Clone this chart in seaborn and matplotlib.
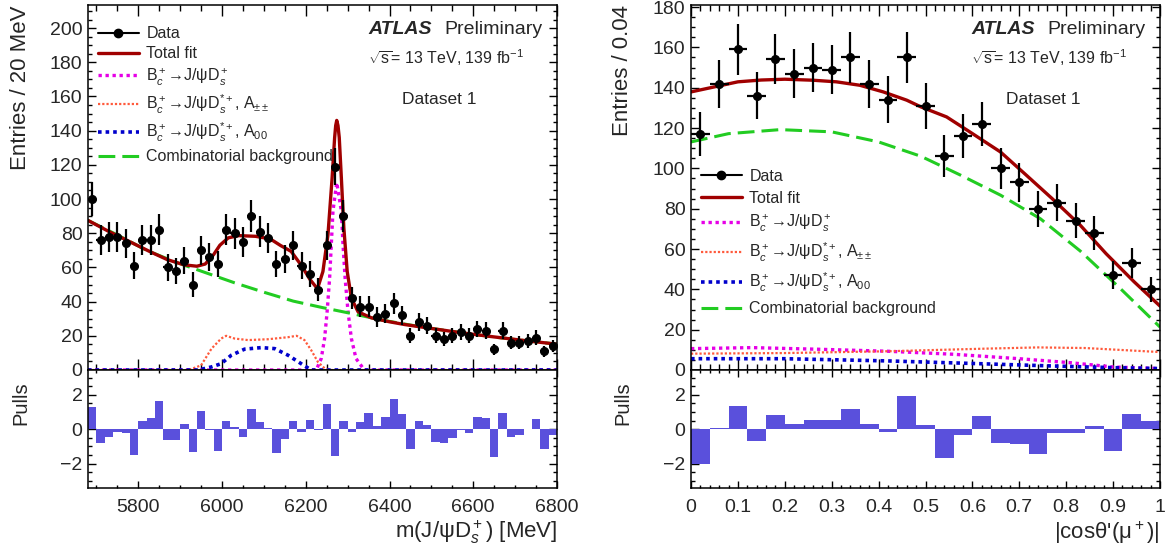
import numpy as np
import matplotlib
matplotlib.use("Agg")
import matplotlib.pyplot as plt
import seaborn as sns
from matplotlib.lines import Line2D
from matplotlib.ticker import MultipleLocator

# ---- left panel: m(J/psi Ds) ----
mass_edges = np.arange(5680, 6801, 20)
mass_centers = (mass_edges[:-1] + mass_edges[1:]) / 2
counts_mass = [100, 76, 78, 78, 74, 61, 76, 76, 82, 60,
               58, 64, 50, 70, 66, 62, 82, 80, 75, 90,
               81, 77, 62, 65, 73, 61, 56, 47, 73, 119,
               90, 42, 37, 37, 31, 33, 39, 32, 20, 28,
               26, 20, 18, 20, 22, 20, 24, 23, 12, 23,
               16, 16, 17, 19, 11, 14]
pulls_mass = [1.28, -0.78, -0.43, -0.17, -0.23, -1.48, 0.49, 0.66, 1.67, -0.62,
              -0.62, 0.31, -1.32, 1.09, -0.05, -1.26, 0.5, 0.14, -0.43, 1.18,
              0.45, 0.08, -1.36, -0.58, 0.5, -0.16, 0.56, -0.02, 1.46, -1.53,
              0.5, -0.16, 0.45, 0.93, 0.19, 0.72, 1.75, 0.89, -1.17, 0.5,
              0.25, -0.74, -0.78, -0.49, -0.02, -0.21, 0.72, 0.64, -1.63, 0.93,
              -0.43, -0.33, 0.0, 0.6, -1.17, -0.31]

fit_mass_x = [5680, 5730, 5780, 5830, 5870, 5910, 5940, 5960, 5980, 5995,
              6015, 6040, 6080, 6115, 6140, 6165, 6190, 6210, 6228, 6241,
              6253, 6263, 6269, 6271.5, 6274, 6277, 6280, 6285, 6291, 6299,
              6309, 6325, 6357, 6400, 6436, 6489, 6568, 6648, 6727, 6800]
fit_mass_y = [87.5, 81, 75, 69, 64.5, 61.5, 60.7, 62, 67.5, 73,
              77.3, 78.6, 78.2, 76.7, 72.8, 69.4, 61, 53, 47.5, 57.6,
              79, 112.5, 136, 143, 146, 143, 136, 112.5, 83, 57.6,
              42, 34, 30.5, 28.2, 26.6, 24.7, 21.9, 19.4, 17.1, 15.1]
bkg_mass_x = [5680, 5750, 5820, 5890, 5960, 6030, 6100, 6170, 6240,
              6310, 6380, 6450, 6520, 6590, 6660, 6730, 6800]
bkg_mass_y = [87.5, 79, 70, 63, 57, 51, 45.5, 40.3, 36.5,
              33, 29.3, 26.3, 23.6, 21.2, 19, 17, 15.1]
ds_mass_x = [5680, 6225, 6237, 6245, 6251, 6257, 6261, 6265, 6274,
             6285, 6289, 6294, 6301, 6309, 6320, 6340, 6800]
ds_mass_y = [0, 0, 6.7, 18.4, 34, 53.7, 73.3, 93, 109.6,
             93, 73.3, 53.7, 34, 18.4, 6.7, 0, 0]
app_mass_x = [5680, 5920, 5950, 5975, 5998, 6010, 6030, 6062, 6110,
              6158, 6178, 6197, 6213, 6229, 6245, 6260, 6800]
app_mass_y = [0, 0, 2.7, 12.5, 18.4, 20, 18.4, 17.5, 18,
              19.2, 20, 17.5, 11.6, 4.7, 1, 0, 0]
a00_mass_x = [5680, 5943, 5975, 5998, 6022, 6054, 6094, 6126, 6158, 6189, 6213, 6800]
a00_mass_y = [0, 0, 1.8, 3.7, 8.6, 12.2, 13.1, 12.5, 8.6, 3.7, 0, 0]

# ---- right panel: |cos theta'(mu+)| ----
cos_edges = np.linspace(0, 1, 26)
cos_centers = (cos_edges[:-1] + cos_edges[1:]) / 2
counts_cos = [117, 142, 159, 136, 154, 147, 150, 149, 155, 142,
              134, 155, 131, 106, 116, 122, 100, 93, 80, 83,
              74, 68, 47, 53, 40]
pulls_cos = [-2.02, 0.1, 1.36, -0.68, 0.83, 0.31, 0.54, 0.54, 1.18, 0.31,
             -0.16, 1.94, 0.25, -1.69, -0.31, 0.78, -0.78, -0.85, -1.42, -0.23,
             -0.23, 0.19, -1.24, 0.89, 0.5]

fit_cos_x = [0, 0.05, 0.1, 0.15, 0.2, 0.26, 0.31, 0.36, 0.41, 0.46,
             0.49, 0.545, 0.595, 0.66, 0.715, 0.77, 0.83, 0.885, 0.945, 1.0]
fit_cos_y = [137.9, 140.4, 142.9, 143.8, 144.2, 143.7, 142.9, 141.2, 137.9, 133.8,
             130.5, 125.5, 118, 108.1, 96.6, 85, 71.8, 57.7, 43.7, 31.7]
bkg_cos_x = [0, 0.08, 0.19, 0.3, 0.4, 0.49, 0.575, 0.66, 0.745, 0.83, 0.915, 1.0]
bkg_cos_y = [113.1, 117.2, 119.2, 118.1, 113.1, 106, 96.6, 86.7, 75, 59, 40.5, 21.3]
ds_cos_x = [0, 0.13, 0.27, 0.42, 0.56, 0.7, 0.81, 0.9, 1.0]
ds_cos_y = [10.6, 11.1, 10.3, 9.3, 7.8, 5.6, 3.6, 1.5, 0.7]
app_cos_x = [0, 0.2, 0.42, 0.63, 0.74, 0.84, 1.0]
app_cos_y = [8.1, 8.4, 9.3, 10.6, 11.2, 10.9, 8.9]
a00_cos_x = [0, 0.2, 0.42, 0.62, 0.77, 0.91, 1.0]
a00_cos_y = [5.6, 5.6, 4.5, 3.1, 2.0, 1.1, 0.7]

RED = "#a00000"
GREEN = "#22cc22"
MAGENTA = "#e600e6"
ORANGE = "#ff5a3c"
BLUE = "#0000cc"
PULLC = "#5a50dc"

sns.set_theme(style="ticks")
plt.rcParams["font.family"] = ["Liberation Sans", "DejaVu Sans"]
plt.rcParams["mathtext.fontset"] = "custom"
plt.rcParams["mathtext.rm"] = "Liberation Sans"
plt.rcParams["mathtext.it"] = "Liberation Sans:italic"
plt.rcParams["mathtext.bf"] = "Liberation Sans:bold"
plt.rcParams["axes.linewidth"] = 1.1

W, H = 1172, 555
fig = plt.figure(figsize=(W / 100, H / 100), dpi=100)


def px_axes(x0, y0, x1, y1):
    return fig.add_axes([x0 / W, 1 - y1 / H, (x1 - x0) / W, (y1 - y0) / H])


def root_ticks(ax, xmaj, xmin, ymaj, ymin, xlen, ylen):
    ax.xaxis.set_major_locator(MultipleLocator(xmaj))
    ax.xaxis.set_minor_locator(MultipleLocator(xmin))
    ax.yaxis.set_major_locator(MultipleLocator(ymaj))
    ax.yaxis.set_minor_locator(MultipleLocator(ymin))
    ax.tick_params(which="both", direction="in", top=True, right=True,
                   labelsize=14, color="black", width=1.0, pad=4)
    ax.tick_params(axis="x", which="major", length=xlen)
    ax.tick_params(axis="x", which="minor", length=xlen * 0.5)
    ax.tick_params(axis="y", which="major", length=ylen)
    ax.tick_params(axis="y", which="minor", length=ylen * 0.5)
    for s in ax.spines.values():
        s.set_color("black")


def draw_panel(ax, axp, centers, half, counts, pulls, edges,
               fit, bkg, ds, app, a00, xlim, ylim):
    sns.lineplot(x=ds[0], y=ds[1], ax=ax, color=MAGENTA, linewidth=2.4,
                 linestyle=(0, (1, 1.1)), sort=False)
    sns.lineplot(x=app[0], y=app[1], ax=ax, color=ORANGE, linewidth=1.6,
                 linestyle=(0, (1, 0.9)), sort=False)
    sns.lineplot(x=a00[0], y=a00[1], ax=ax, color=BLUE, linewidth=2.6,
                 linestyle=(0, (1, 1.1)), sort=False)
    sns.lineplot(x=bkg[0], y=bkg[1], ax=ax, color=GREEN, linewidth=2.2,
                 linestyle=(0, (5.5, 2.3)), sort=False)
    sns.lineplot(x=fit[0], y=fit[1], ax=ax, color=RED, linewidth=2.4, sort=False)
    # Poisson errors on the counts
    ax.errorbar(centers, counts, yerr=np.sqrt(counts), xerr=half, fmt="o",
                color="black", ms=5.5, elinewidth=1.6, capsize=0, zorder=5)
    ax.set_xlim(*xlim)
    ax.set_ylim(*ylim)
    ax.set_xlabel("")
    ax.set_ylabel("")
    ax.tick_params(labelbottom=False)

    axp.bar(centers, pulls, width=edges[1] - edges[0], color=PULLC, linewidth=0)
    axp.set_xlim(*xlim)
    axp.set_ylim(-3.42, 3.45)


axL = px_axes(88, 5, 557, 370)
axLp = px_axes(88, 370, 557, 488)
axR = px_axes(691, 5, 1160, 370)
axRp = px_axes(691, 370, 1160, 488)

draw_panel(axL, axLp, mass_centers, 10, counts_mass, pulls_mass, mass_edges,
           (fit_mass_x, fit_mass_y), (bkg_mass_x, bkg_mass_y),
           (ds_mass_x, ds_mass_y), (app_mass_x, app_mass_y),
           (a00_mass_x, a00_mass_y), (5680, 6800), (0, 213.5))
draw_panel(axR, axRp, cos_centers, 0.02, counts_cos, pulls_cos, cos_edges,
           (fit_cos_x, fit_cos_y), (bkg_cos_x, bkg_cos_y),
           (ds_cos_x, ds_cos_y), (app_cos_x, app_cos_y),
           (a00_cos_x, a00_cos_y), (0, 1), (0, 181))

root_ticks(axL, 200, 50, 20, 5, 8, 6)
root_ticks(axLp, 200, 50, 2, 0.5, 5, 6)
root_ticks(axR, 0.1, 0.02, 20, 5, 8, 6)
root_ticks(axRp, 0.1, 0.02, 2, 0.5, 5, 6)
axLp.tick_params(axis="x", pad=8)
axRp.tick_params(axis="x", pad=8)
axRp.xaxis.set_major_formatter(matplotlib.ticker.FuncFormatter(
    lambda v, p: "0" if abs(v) < 1e-9 else ("1" if abs(v - 1) < 1e-9 else f"{v:.1f}")))

labels = ["Data", "Total fit",
          "B$_c^+$→J/ψD$_s^+$",
          "B$_c^+$→J/ψD$_s^{*+}$, A$_{\\pm\\pm}$",
          "B$_c^+$→J/ψD$_s^{*+}$, A$_{00}$",
          "Combinatorial background"]


def handles():
    return [Line2D([], [], color="black", marker="o", ms=6, lw=1.5),
            Line2D([], [], color=RED, lw=2.4),
            Line2D([], [], color=MAGENTA, lw=2.4, ls=(0, (1, 1.1))),
            Line2D([], [], color=ORANGE, lw=1.6, ls=(0, (1, 0.9))),
            Line2D([], [], color=BLUE, lw=2.6, ls=(0, (1, 1.1))),
            Line2D([], [], color=GREEN, lw=2.2, ls=(0, (5.5, 2.3)))]


for ax, anchor, spacing in [(axL, (0.0, 0.968), 0.32), (axR, (0.0, 0.578), 0.44)]:
    ax.legend(handles(), labels, loc="upper left", bbox_to_anchor=anchor,
              frameon=False, fontsize=11.5, handlelength=2.6,
              handletextpad=0.45, labelspacing=spacing, borderaxespad=0.2)
    ax.text(0.597, 0.934, "ATLAS", fontsize=14, fontweight="bold",
            fontstyle="italic", va="center", transform=ax.transAxes)
    ax.text(0.759, 0.934, "Preliminary", fontsize=14, va="center",
            transform=ax.transAxes)
    ax.text(0.597, 0.855, "$\\sqrt{\\mathrm{s}}$= 13 TeV, 139 fb$^{-1}$",
            fontsize=11.5, va="center", transform=ax.transAxes)
    ax.text(0.75, 0.74, "Dataset 1", fontsize=12.5, ha="center", va="center",
            transform=ax.transAxes)

fig.text(21 / W, 1 - 5 / H, "Entries / 20 MeV", rotation=90, ha="center",
         va="top", fontsize=16)
fig.text(21 / W, 1 - 381 / H, "Pulls", rotation=90, ha="center", va="top",
         fontsize=14.5)
fig.text(623 / W, 1 - 5 / H, "Entries / 0.04", rotation=90, ha="center",
         va="top", fontsize=16)
fig.text(623 / W, 1 - 381 / H, "Pulls", rotation=90, ha="center", va="top",
         fontsize=14.5)
fig.text(557 / W, 1 - 532 / H, "m(J/ψD$_s^+$) [MeV]", ha="right",
         va="center", fontsize=16)
fig.text(1160 / W, 1 - 533 / H, "|cosθ'(μ$^+$)|", ha="right",
         va="center", fontsize=16)

fig.savefig("out.png", dpi=100)
